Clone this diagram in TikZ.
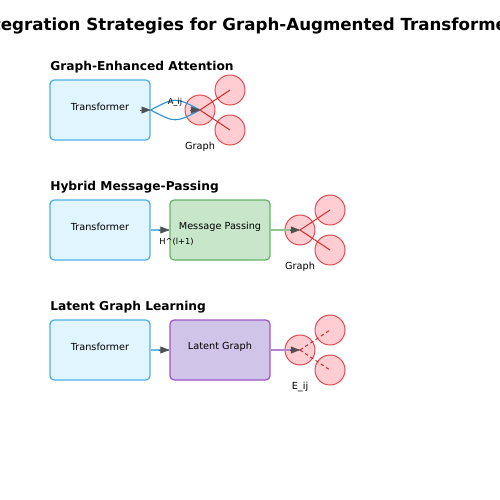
\documentclass[tikz,border=0pt]{standalone}
\usepackage{fontspec}
\setmainfont{DejaVu Sans}
\usetikzlibrary{arrows.meta,calc}
\definecolor{tfill}{HTML}{E1F5FE}
\definecolor{tdraw}{HTML}{4FB0E6}
\definecolor{gfill}{HTML}{C8E6C9}
\definecolor{gdraw}{HTML}{6AB26C}
\definecolor{pfill}{HTML}{D1C4E9}
\definecolor{pdraw}{HTML}{9C5BC4}
\definecolor{cfill}{HTML}{FFCDD2}
\definecolor{cdraw}{HTML}{E0474C}
\definecolor{redline}{HTML}{D62728}
\definecolor{curveblue}{HTML}{2A90D8}
\definecolor{tipgray}{HTML}{505050}
\tikzset{
  box/.style={rounded corners=3pt, line width=0.9pt, minimum width=72pt, minimum height=43.2pt, inner sep=0pt},
  tbox/.style={box, draw=tdraw, fill=tfill},
  gbox/.style={box, draw=gdraw, fill=gfill},
  pbox/.style={box, draw=pdraw, fill=pfill},
  gnode/.style={circle, draw=cdraw, fill=cfill, line width=0.7pt, minimum size=21.6pt, inner sep=0pt},
  boxtext/.style={font=\fontsize{7}{8}\selectfont, inner sep=0pt},
  header/.style={font=\fontsize{8.8}{11}\bfseries\selectfont, anchor=west, inner sep=0pt},
  small/.style={font=\fontsize{6}{7}\selectfont, inner sep=0pt},
  lbl/.style={font=\fontsize{7}{8}\selectfont, inner sep=0pt},
  tip/.style={draw=tipgray, line width=0.3pt, -{Triangle[length=6.5pt,width=5pt,fill=tipgray]}},
  edge/.style={redline, line width=0.7pt},
}
\begin{document}
\begin{tikzpicture}[x=0.72pt,y=-0.72pt]
\useasboundingbox (0,0) rectangle (500,500);
\node[font=\fontsize{12}{14}\bfseries\selectfont, inner sep=0pt] (title) at (250,25.5) {Integration Strategies for Graph-Augmented Transformers};

% Section 1
\node[header] (h1) at (50,67) {Graph-Enhanced Attention};
\node[tbox] (t1) at (100,110) {};
\node[boxtext] at ([yshift=2pt]t1.center) {Transformer};
\node[gnode] (g1a) at (200,110) {};
\node[gnode] (g1b) at (230,90) {};
\node[gnode] (g1c) at (230,130) {};
\draw[edge] (g1a.center) -- (g1b.center);
\draw[edge] (g1a.center) -- (g1c.center);
\draw[curveblue, line width=0.8pt] (t1.east) .. controls ($(t1.east)!0.5!(g1a.center)+(0,-13)$) .. (g1a.center);
\draw[curveblue, line width=0.8pt] (t1.east) .. controls ($(t1.east)!0.5!(g1a.center)+(0,13)$) .. (g1a.center);
\draw[tip] ([xshift=-7.5pt]t1.east) -- (t1.east);
\draw[tip] ([xshift=-7.5pt]g1a.center) -- (g1a.center);
\node[small] (a1) at (175,102.5) {A\_ij};
\node[lbl] (l1) at (200,146.5) {Graph};

% Section 2
\node[header] (h2) at (50,187) {Hybrid Message-Passing};
\node[tbox] (t2) at (100,230) {};
\node[boxtext] at ([yshift=2pt]t2.center) {Transformer};
\node[gbox] (mp) at (220,230) {};
\node[boxtext] at ([yshift=2pt]mp.center) {Message Passing};
\node[gnode] (g2a) at (300,230) {};
\node[gnode] (g2b) at (330,210) {};
\node[gnode] (g2c) at (330,250) {};
\draw[edge] (g2a.center) -- (g2b.center);
\draw[edge] (g2a.center) -- (g2c.center);
\draw[tdraw!85!white, line width=1.1pt] (t2.east) -- (mp.west);
\draw[tip] ([xshift=-7.5pt]mp.west) -- (mp.west);
\draw[gdraw!75!white, line width=1.1pt] (mp.east) -- (g2a.center);
\draw[tip] ([xshift=-7.5pt]g2a.center) -- (g2a.center);
\node[small] (a2) at (176.5,241.5) {H\textasciicircum(l+1)};
\node[lbl] (l2) at (300,266.5) {Graph};

% Section 3
\node[header] (h3) at (50,307) {Latent Graph Learning};
\node[tbox] (t3) at (100,350) {};
\node[boxtext] at ([yshift=2pt]t3.center) {Transformer};
\node[pbox] (lg) at (220,350) {};
\node[boxtext] at ([yshift=2pt]lg.center) {Latent Graph};
\node[gnode] (g3a) at (300,350) {};
\node[gnode] (g3b) at (330,330) {};
\node[gnode] (g3c) at (330,370) {};
\draw[edge, dash pattern=on 2.5pt off 2pt] (g3a.center) -- (g3b.center);
\draw[edge, dash pattern=on 2.5pt off 2pt] (g3a.center) -- (g3c.center);
\draw[tdraw!85!white, line width=1.1pt] (t3.east) -- (lg.west);
\draw[tip] ([xshift=-7.5pt]lg.west) -- (lg.west);
\draw[pdraw!75!white, line width=1.1pt] (lg.east) -- (g3a.center);
\draw[tip] ([xshift=-7.5pt]g3a.center) -- (g3a.center);
\node[lbl] (l3) at (300,386.5) {E\_ij};
\end{tikzpicture}
\end{document}
